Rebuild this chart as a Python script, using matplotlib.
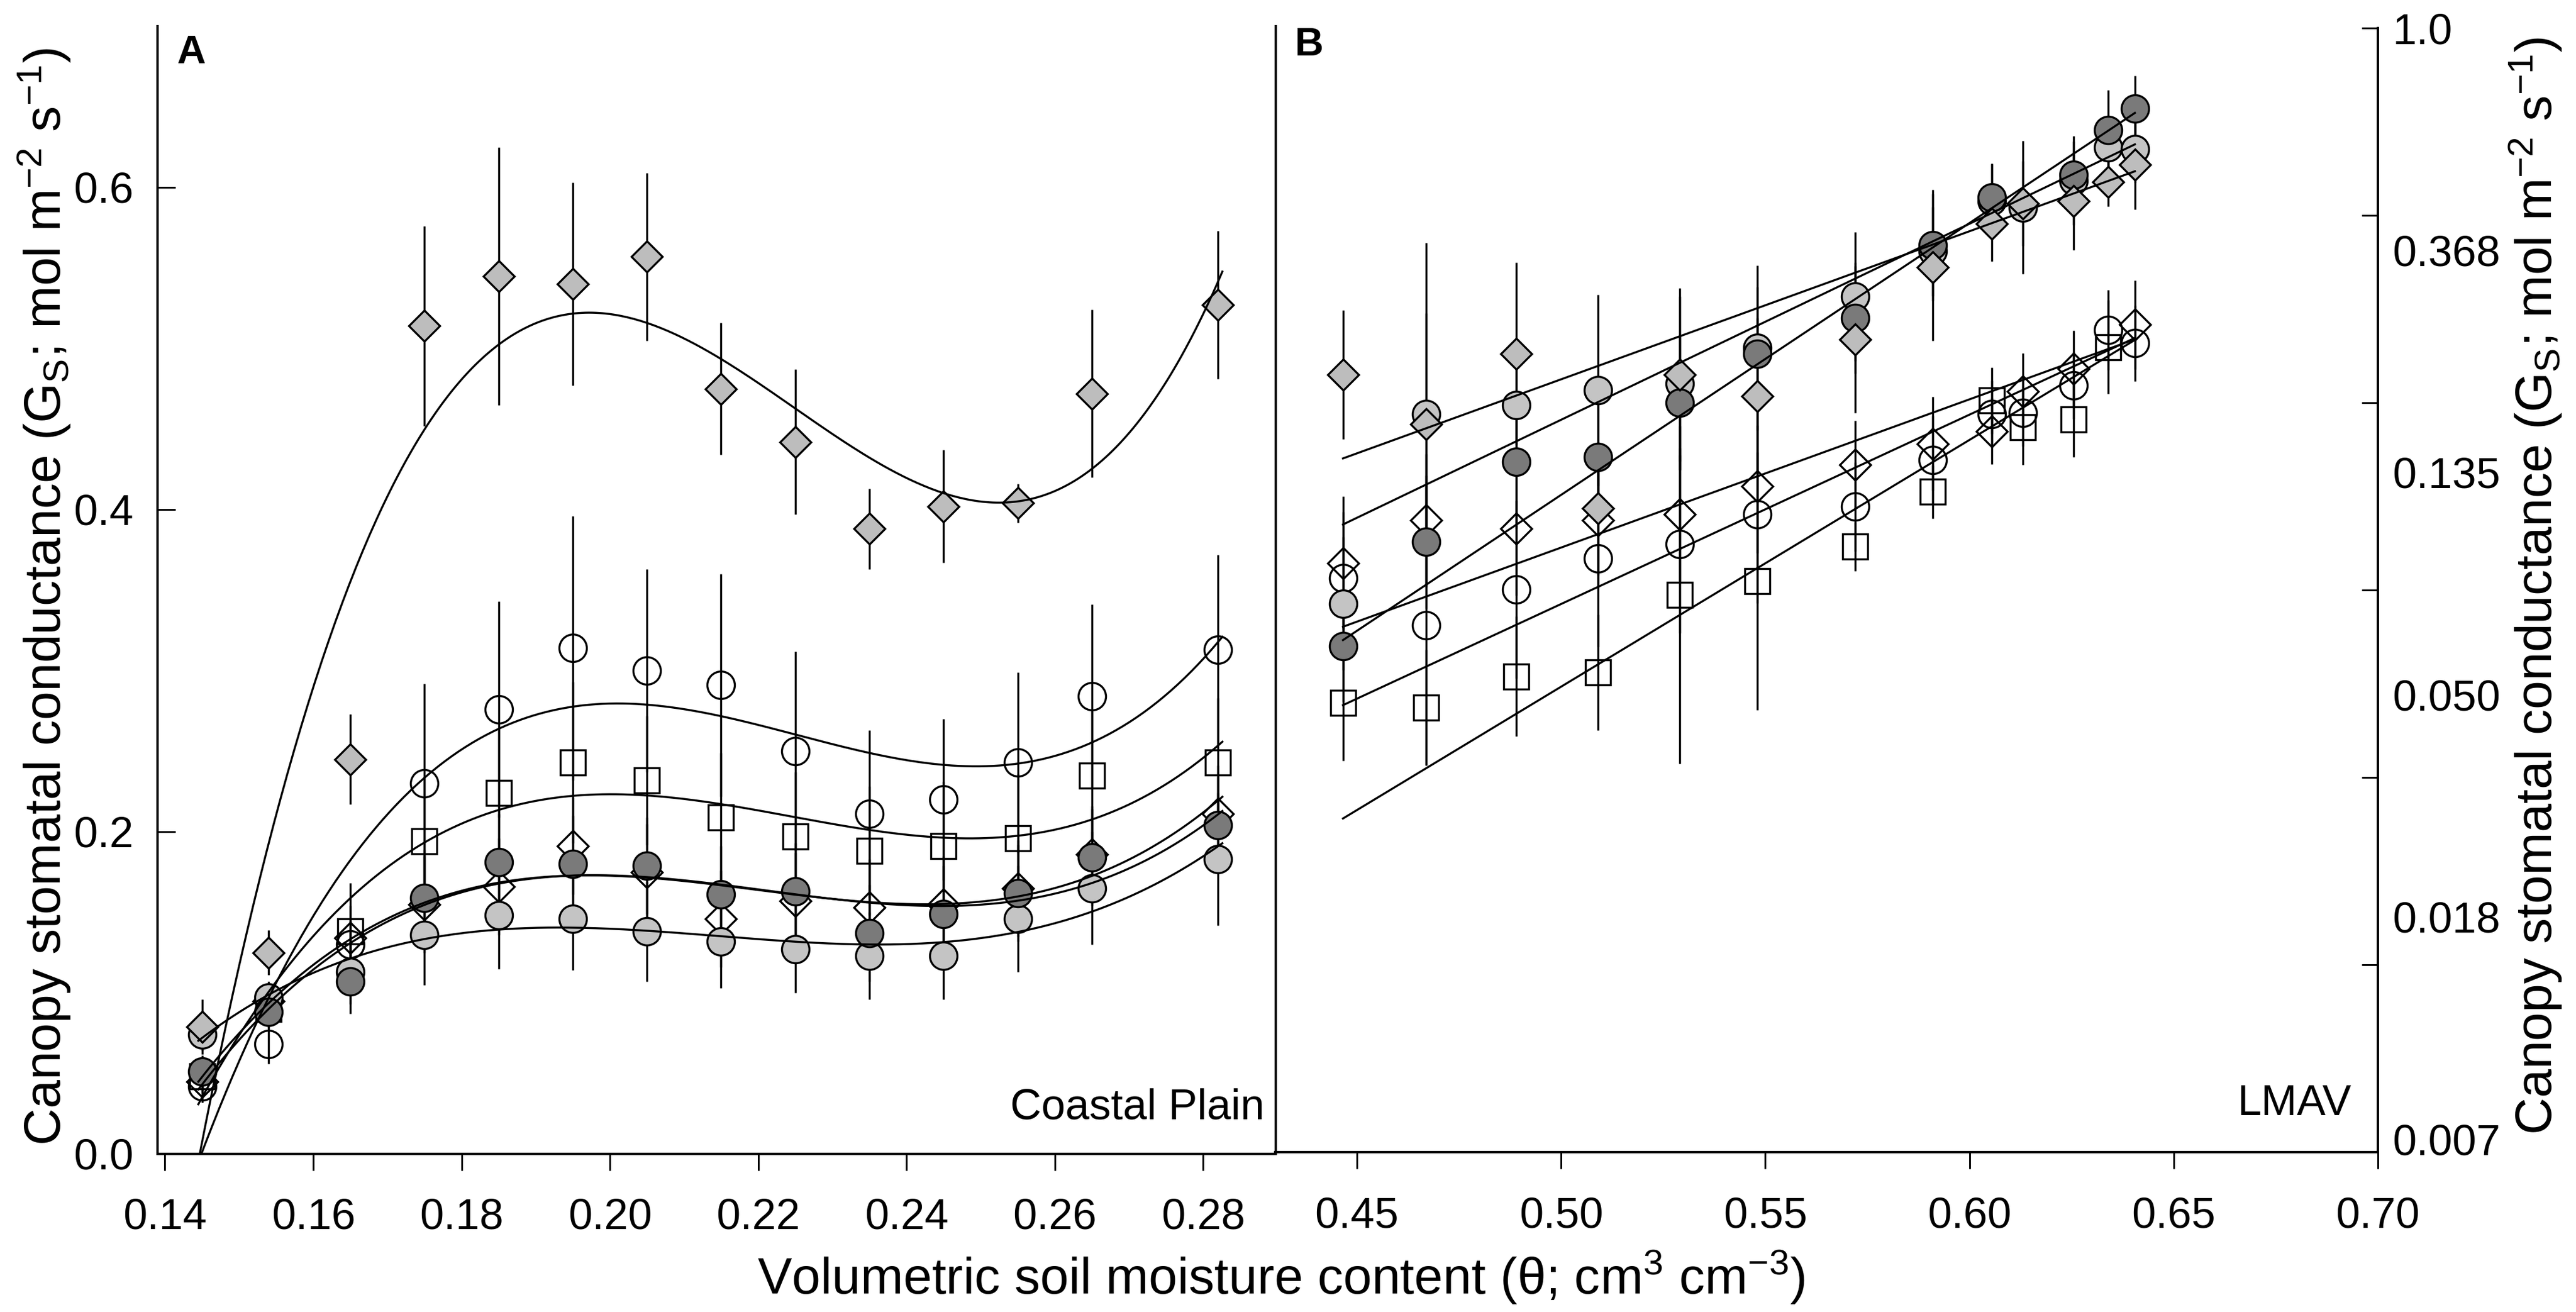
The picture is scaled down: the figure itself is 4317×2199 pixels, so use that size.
import numpy as np
import matplotlib
matplotlib.use("Agg")
import matplotlib.pyplot as plt

plt.rcParams['font.family'] = ['Liberation Sans', 'DejaVu Sans']
plt.rcParams['mathtext.fontset'] = 'custom'
plt.rcParams['mathtext.rm'] = 'Liberation Sans'
plt.rcParams['mathtext.it'] = 'Liberation Sans:italic'
plt.rcParams['mathtext.bf'] = 'Liberation Sans:bold'

# ---------------- Panel A : Coastal Plain ----------------
theta_cp = [0.145, 0.154, 0.165, 0.175, 0.185, 0.195, 0.205, 0.215, 0.225, 0.235, 0.245, 0.255, 0.265, 0.282]

cp_gray_diamond = [0.079, 0.125, 0.245, 0.514, 0.545, 0.540, 0.557, 0.475, 0.442, 0.388, 0.402, 0.404, 0.472, 0.527]
cp_gray_diamond_err = [0.017, 0.014, 0.028, 0.062, 0.080, 0.063, 0.052, 0.041, 0.045, 0.025, 0.035, 0.012, 0.052, 0.046]

cp_open_circle = [0.042, 0.068, 0.130, 0.230, 0.276, 0.314, 0.300, 0.291, 0.250, 0.211, 0.220, 0.243, 0.284, 0.313]
cp_open_circle_err = [0.010, 0.012, 0.015, 0.062, 0.067, 0.082, 0.063, 0.069, 0.062, 0.052, 0.050, 0.056, 0.057, 0.059]

cp_open_square = [0.048, 0.090, 0.138, 0.194, 0.224, 0.243, 0.232, 0.209, 0.197, 0.188, 0.191, 0.196, 0.235, 0.243]
cp_open_square_err = [0.010, 0.010, 0.030, 0.040, 0.040, 0.050, 0.040, 0.040, 0.040, 0.040, 0.040, 0.040, 0.040, 0.040]

cp_open_diamond = [0.045, 0.095, 0.134, 0.155, 0.166, 0.191, 0.175, 0.146, 0.157, 0.153, 0.155, 0.165, 0.186, 0.211]
cp_open_diamond_err = [0.010, 0.010, 0.020, 0.030, 0.030, 0.030, 0.030, 0.030, 0.030, 0.030, 0.030, 0.030, 0.030, 0.030]

cp_dark_circle = [0.051, 0.088, 0.107, 0.159, 0.181, 0.180, 0.179, 0.161, 0.163, 0.137, 0.149, 0.162, 0.184, 0.204]
cp_dark_circle_err = [0.010, 0.010, 0.020, 0.030, 0.030, 0.030, 0.030, 0.030, 0.030, 0.030, 0.030, 0.030, 0.030, 0.030]

cp_light_circle = [0.074, 0.097, 0.113, 0.136, 0.148, 0.146, 0.138, 0.132, 0.127, 0.123, 0.123, 0.146, 0.165, 0.183]
cp_light_circle_err = [0.010, 0.010, 0.020, 0.031, 0.033, 0.032, 0.031, 0.029, 0.027, 0.027, 0.027, 0.033, 0.035, 0.041]

# ---------------- Panel B : LMAV ----------------
theta_lmav = [0.4466, 0.467, 0.489, 0.509, 0.529, 0.548, 0.572, 0.591, 0.6055, 0.613, 0.6255, 0.634, 0.6405]
theta_lmav_dc = [0.4466, 0.467, 0.489, 0.509, 0.529, 0.548, 0.572, 0.591, 0.6055, 0.6255, 0.634, 0.6405]
theta_lmav_od = [0.4466, 0.467, 0.489, 0.509, 0.529, 0.548, 0.572, 0.591, 0.6055, 0.613, 0.6255, 0.6405]
theta_lmav_sq = [0.4466, 0.467, 0.489, 0.509, 0.529, 0.548, 0.572, 0.591, 0.6055, 0.613, 0.6255, 0.634]

lmav_gray_diamond = [0.210, 0.168, 0.231, 0.115, 0.210, 0.191, 0.246, 0.341, 0.415, 0.454, 0.459, 0.500, 0.540]
lmav_gray_diamond_lnerr = [0.29, 0.50, 0.41, 0.30, 0.39, 0.35, 0.33, 0.33, 0.17, 0.19, 0.22, 0.11, 0.20]

lmav_dark_circle = [0.062, 0.099, 0.142, 0.145, 0.185, 0.231, 0.271, 0.376, 0.466, 0.517, 0.631, 0.695]
lmav_dark_circle_lnerr = [0.25, 0.30, 0.30, 0.30, 0.30, 0.30, 0.25, 0.25, 0.15, 0.15, 0.18, 0.15]

lmav_light_circle = [0.075, 0.176, 0.183, 0.196, 0.202, 0.237, 0.299, 0.366, 0.459, 0.446, 0.503, 0.584, 0.580]
lmav_light_circle_lnerr = [0.30, 0.77, 0.30, 0.43, 0.39, 0.37, 0.29, 0.20, 0.17, 0.30, 0.20, 0.12, 0.15]

lmav_open_diamond = [0.090, 0.109, 0.105, 0.109, 0.112, 0.127, 0.140, 0.154, 0.163, 0.195, 0.216, 0.263]
lmav_open_diamond_lnerr = [0.30, 0.30, 0.30, 0.30, 0.30, 0.30, 0.20, 0.21, 0.15, 0.17, 0.17, 0.20]

lmav_open_circle = [0.084, 0.068, 0.080, 0.092, 0.098, 0.112, 0.116, 0.143, 0.176, 0.177, 0.200, 0.257, 0.242]
lmav_open_circle_lnerr = [0.30, 0.63, 0.40, 0.40, 0.40, 0.40, 0.20, 0.20, 0.15, 0.15, 0.15, 0.18, 0.17]

lmav_open_square = [0.048, 0.047, 0.054, 0.055, 0.078, 0.083, 0.097, 0.124, 0.187, 0.166, 0.172, 0.238]
lmav_open_square_lnerr = [0.26, 0.26, 0.27, 0.26, 0.76, 0.58, 0.11, 0.12, 0.15, 0.17, 0.17, 0.21]

rb_tick_labels = ['1.0', '0.368', '0.135', '0.050', '0.018', '0.007']
rb_tick_ln = [0, -1, -2, -3, -4, -5]

# ---------------- styling ----------------
W, H = 4317, 2199
PX = 72 / 100.0          # points per pixel at dpi 100
LW = 3.4 * PX
MEW = 3.4 * PX
SPW = 4 * PX
DARK = '#7a7a7a'
LIGHT = '#c4c4c4'
GRAYD = '#bdbdbd'

styles = {
    'oc': dict(marker='o', mfc='none', ms=46 * PX),
    'sq': dict(marker='s', mfc='none', ms=42 * PX),
    'od': dict(marker='D', mfc='none', ms=37 * PX),
    'lc': dict(marker='o', mfc=LIGHT, ms=46 * PX),
    'dc': dict(marker='o', mfc=DARK, ms=46 * PX),
    'gd': dict(marker='D', mfc=GRAYD, ms=37 * PX),
}

fig = plt.figure(figsize=(W / 100, H / 100), dpi=100)
fig.patch.set_facecolor('white')

axA = fig.add_axes([264 / W, 1 - 1934 / H, (2138 - 264) / W, (1934 - 44) / H])
axB = fig.add_axes([2137 / W, 1 - 1931 / H, (3985 - 2137) / W, (1931 - 47) / H])
axB.patch.set_visible(False)


def draw_series(ax, x, y, yerr, key):
    st = styles[key]
    ax.errorbar(x, y, yerr=yerr, fmt='none', ecolor='black', elinewidth=LW,
                capsize=0, zorder=2)
    ax.plot(x, y, linestyle='none', marker=st['marker'], ms=st['ms'],
            mfc=st['mfc'], mec='black', mew=MEW, zorder=3)


# Panel A
seriesA = [
    ('oc', cp_open_circle, cp_open_circle_err),
    ('sq', cp_open_square, cp_open_square_err),
    ('od', cp_open_diamond, cp_open_diamond_err),
    ('lc', cp_light_circle, cp_light_circle_err),
    ('dc', cp_dark_circle, cp_dark_circle_err),
    ('gd', cp_gray_diamond, cp_gray_diamond_err),
]
xa = np.array(theta_cp)
xfine = np.linspace(0.1445, 0.2826, 300)
for key, vals, err in seriesA:
    draw_series(axA, xa, vals, err, key)
    coef = np.polyfit(xa, np.array(vals), 3)
    axA.plot(xfine, np.polyval(coef, xfine), color='black', lw=LW, zorder=4)

axA.set_xlim(0.139, 0.2898)
axA.set_ylim(0, 0.7)
axA.set_xticks([0.14, 0.16, 0.18, 0.20, 0.22, 0.24, 0.26, 0.28])
axA.set_xticklabels(['0.14', '0.16', '0.18', '0.20', '0.22', '0.24', '0.26', '0.28'])
axA.set_yticks([0.0, 0.2, 0.4, 0.6])
axA.set_yticklabels(['0.0', '0.2', '0.4', '0.6'])
axA.spines['top'].set_visible(False)
for s in ['left', 'bottom', 'right']:
    axA.spines[s].set_linewidth(SPW)
axA.tick_params(axis='x', direction='out', length=28 * PX, width=3 * PX,
                labelsize=52, pad=46 * PX)
axA.tick_params(axis='y', direction='in', length=30 * PX, width=3 * PX,
                labelsize=52, pad=40 * PX, right=False)

# Panel B
seriesB = [
    ('oc', theta_lmav, lmav_open_circle, lmav_open_circle_lnerr),
    ('sq', theta_lmav_sq, lmav_open_square, lmav_open_square_lnerr),
    ('od', theta_lmav_od, lmav_open_diamond, lmav_open_diamond_lnerr),
    ('lc', theta_lmav, lmav_light_circle, lmav_light_circle_lnerr),
    ('dc', theta_lmav_dc, lmav_dark_circle, lmav_dark_circle_lnerr),
    ('gd', theta_lmav, lmav_gray_diamond, lmav_gray_diamond_lnerr),
]
axB.set_yscale('log', base=np.e)
xlin = np.linspace(min(theta_lmav), max(theta_lmav), 50)
for key, xs, vals, lerr in seriesB:
    xs = np.array(xs)
    v = np.array(vals)
    e = np.array(lerr)
    yerr = [v - v * np.exp(-e), v * np.exp(e) - v]
    draw_series(axB, xs, v, yerr, key)
    # exponential fit, least squares in linear space (approximated by weighting)
    coef = np.polyfit(xs, np.log(v), 1, w=v ** 2)
    axB.plot(xlin, np.exp(np.polyval(coef, xlin)), color='black', lw=LW, zorder=4)

ln_bottom = -(1931 - 47) / 372.4
axB.set_xlim(0.43, 0.70)
axB.set_ylim(np.exp(ln_bottom), 1.0)
axB.set_xticks([0.45, 0.50, 0.55, 0.60, 0.65, 0.70])
axB.set_xticklabels(['0.45', '0.50', '0.55', '0.60', '0.65', '0.70'])
axB.yaxis.tick_right()
axB.yaxis.remove_overlapping_locs = False
axB.set_yticks(np.exp(np.linspace(0, ln_bottom, 7)), labels=[''] * 7)
axB.set_yticks(np.exp(np.array(rb_tick_ln, dtype=float)), labels=rb_tick_labels, minor=True)
axB.spines['top'].set_visible(False)
axB.spines['left'].set_visible(False)
for s in ['bottom', 'right']:
    axB.spines[s].set_linewidth(SPW)
axB.tick_params(axis='x', direction='out', length=28 * PX, width=3 * PX,
                labelsize=52, pad=46 * PX)
axB.tick_params(axis='y', which='major', direction='in', length=27 * PX, width=3 * PX,
                left=False, right=True, labelleft=False, labelright=True)
axB.tick_params(axis='y', which='minor', length=0, left=False, right=True,
                labelleft=False, labelright=True, labelsize=52, pad=24 * PX)

# Texts
ylab = 'Canopy stomatal conductance (G$_\\mathregular{S}$; mol m$^\\mathregular{-2}$ s$^\\mathregular{-1}$)'
fig.text(74 / W, 1 - 1000 / H, ylab, rotation=90, ha='center', va='center', fontsize=62)
fig.text(4249 / W, 1 - 982 / H, ylab, rotation=90, ha='center', va='center', fontsize=62)
fig.text(2147 / W, 1 - 2169 / H,
         'Volumetric soil moisture content (\u03b8; cm$^\\mathregular{3}$ cm$^\\mathregular{-3}$)',
         ha='center', va='baseline', fontsize=62)
fig.text(296 / W, 1 - 58 / H, 'A', ha='left', va='top', fontsize=48, fontweight='bold')
fig.text(2170 / W, 1 - 45 / H, 'B', ha='left', va='top', fontsize=48, fontweight='bold')
fig.text(2119 / W, 1 - 1875 / H, 'Coastal Plain', ha='right', va='baseline', fontsize=52)
fig.text(3940 / W, 1 - 1869 / H, 'LMAV', ha='right', va='baseline', fontsize=52)

fig.savefig('out.png', dpi=100, facecolor='white')
